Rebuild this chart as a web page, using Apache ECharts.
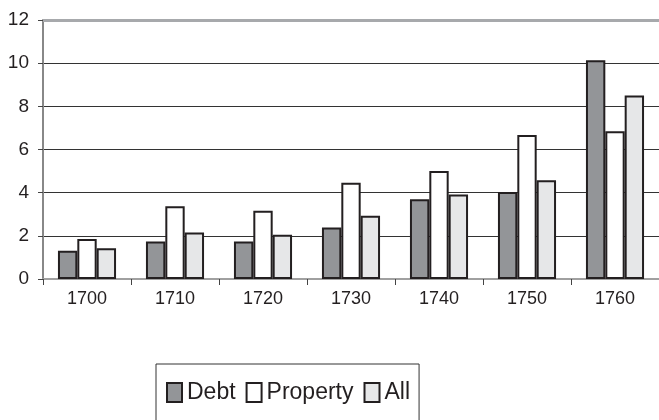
<!DOCTYPE html>
<html>
<head>
<meta charset="utf-8">
<script src="https://cdn.jsdelivr.net/npm/echarts@6/dist/echarts.min.js"></script>
<style>
  html, body { margin: 0; padding: 0; background: #fff; }
  #chart { width: 659px; height: 420px; }
</style>
</head>
<body>
<div id="chart"></div>
<script>
const years = ['1700', '1710', '1720', '1730', '1740', '1750', '1760'];
const debt = [1.31, 1.74, 1.74, 2.39, 3.70, 4.03, 10.14];
const property = [1.85, 3.37, 3.16, 4.46, 5.0, 6.67, 6.85];
const all = [1.42, 2.16, 2.05, 2.93, 3.92, 4.57, 8.5];
const yTicks = [0, 2, 4, 6, 8, 10, 12];

const chart = echarts.init(document.getElementById('chart'));
const font = '"Liberation Sans", Arial, sans-serif';
const border = { borderColor: '#231f20', borderWidth: 2 };

chart.setOption({
  animation: false,
  textStyle: { fontFamily: font },
  grid: { left: 43, right: 0, top: 20, bottom: 141 },
  legend: {
    data: ['Debt', 'Property', 'All'],
    left: 156,
    top: 364,
    padding: [17, 9, 17, 10],
    itemGap: 10,
    itemWidth: 15,
    itemHeight: 19,
    icon: 'rect',
    borderColor: '#333',
    borderWidth: 1,
    textStyle: { fontSize: 23, color: '#231f20', fontFamily: font }
  },
  xAxis: {
    type: 'category',
    data: years,
    axisLine: { lineStyle: { color: '#a0a0a0', width: 2 } },
    axisTick: { show: true, length: 6, lineStyle: { color: '#444', width: 1 } },
    axisLabel: { fontSize: 18, color: '#231f20', margin: 11 }
  },
  yAxis: {
    type: 'value',
    min: 0,
    max: 12,
    interval: 2,
    axisLine: { show: true, lineStyle: { color: '#888', width: 2 } },
    axisTick: { show: true, length: 5, lineStyle: { color: '#444' } },
    axisLabel: {
      fontSize: 19,
      color: '#231f20',
      margin: 14,
      formatter: v => (yTicks.includes(v) ? String(v) : '')
    },
    splitLine: { lineStyle: { color: '#333', width: 1 } }
  },
  series: [
    {
      name: 'Debt',
      type: 'bar',
      data: debt,
      barGap: '0%',
      barCategoryGap: '34%',
      itemStyle: Object.assign({ color: '#939598' }, border),
      markLine: {
        silent: true,
        symbol: 'none',
        label: { show: false },
        lineStyle: { color: '#a7a9ac', width: 3, type: 'solid' },
        data: [{ yAxis: 12 }]
      }
    },
    {
      name: 'Property',
      type: 'bar',
      data: property,
      itemStyle: Object.assign({ color: '#ffffff' }, border)
    },
    {
      name: 'All',
      type: 'bar',
      data: all,
      itemStyle: Object.assign({ color: '#e6e7e8' }, border)
    }
  ]
});
</script>
</body>
</html>
